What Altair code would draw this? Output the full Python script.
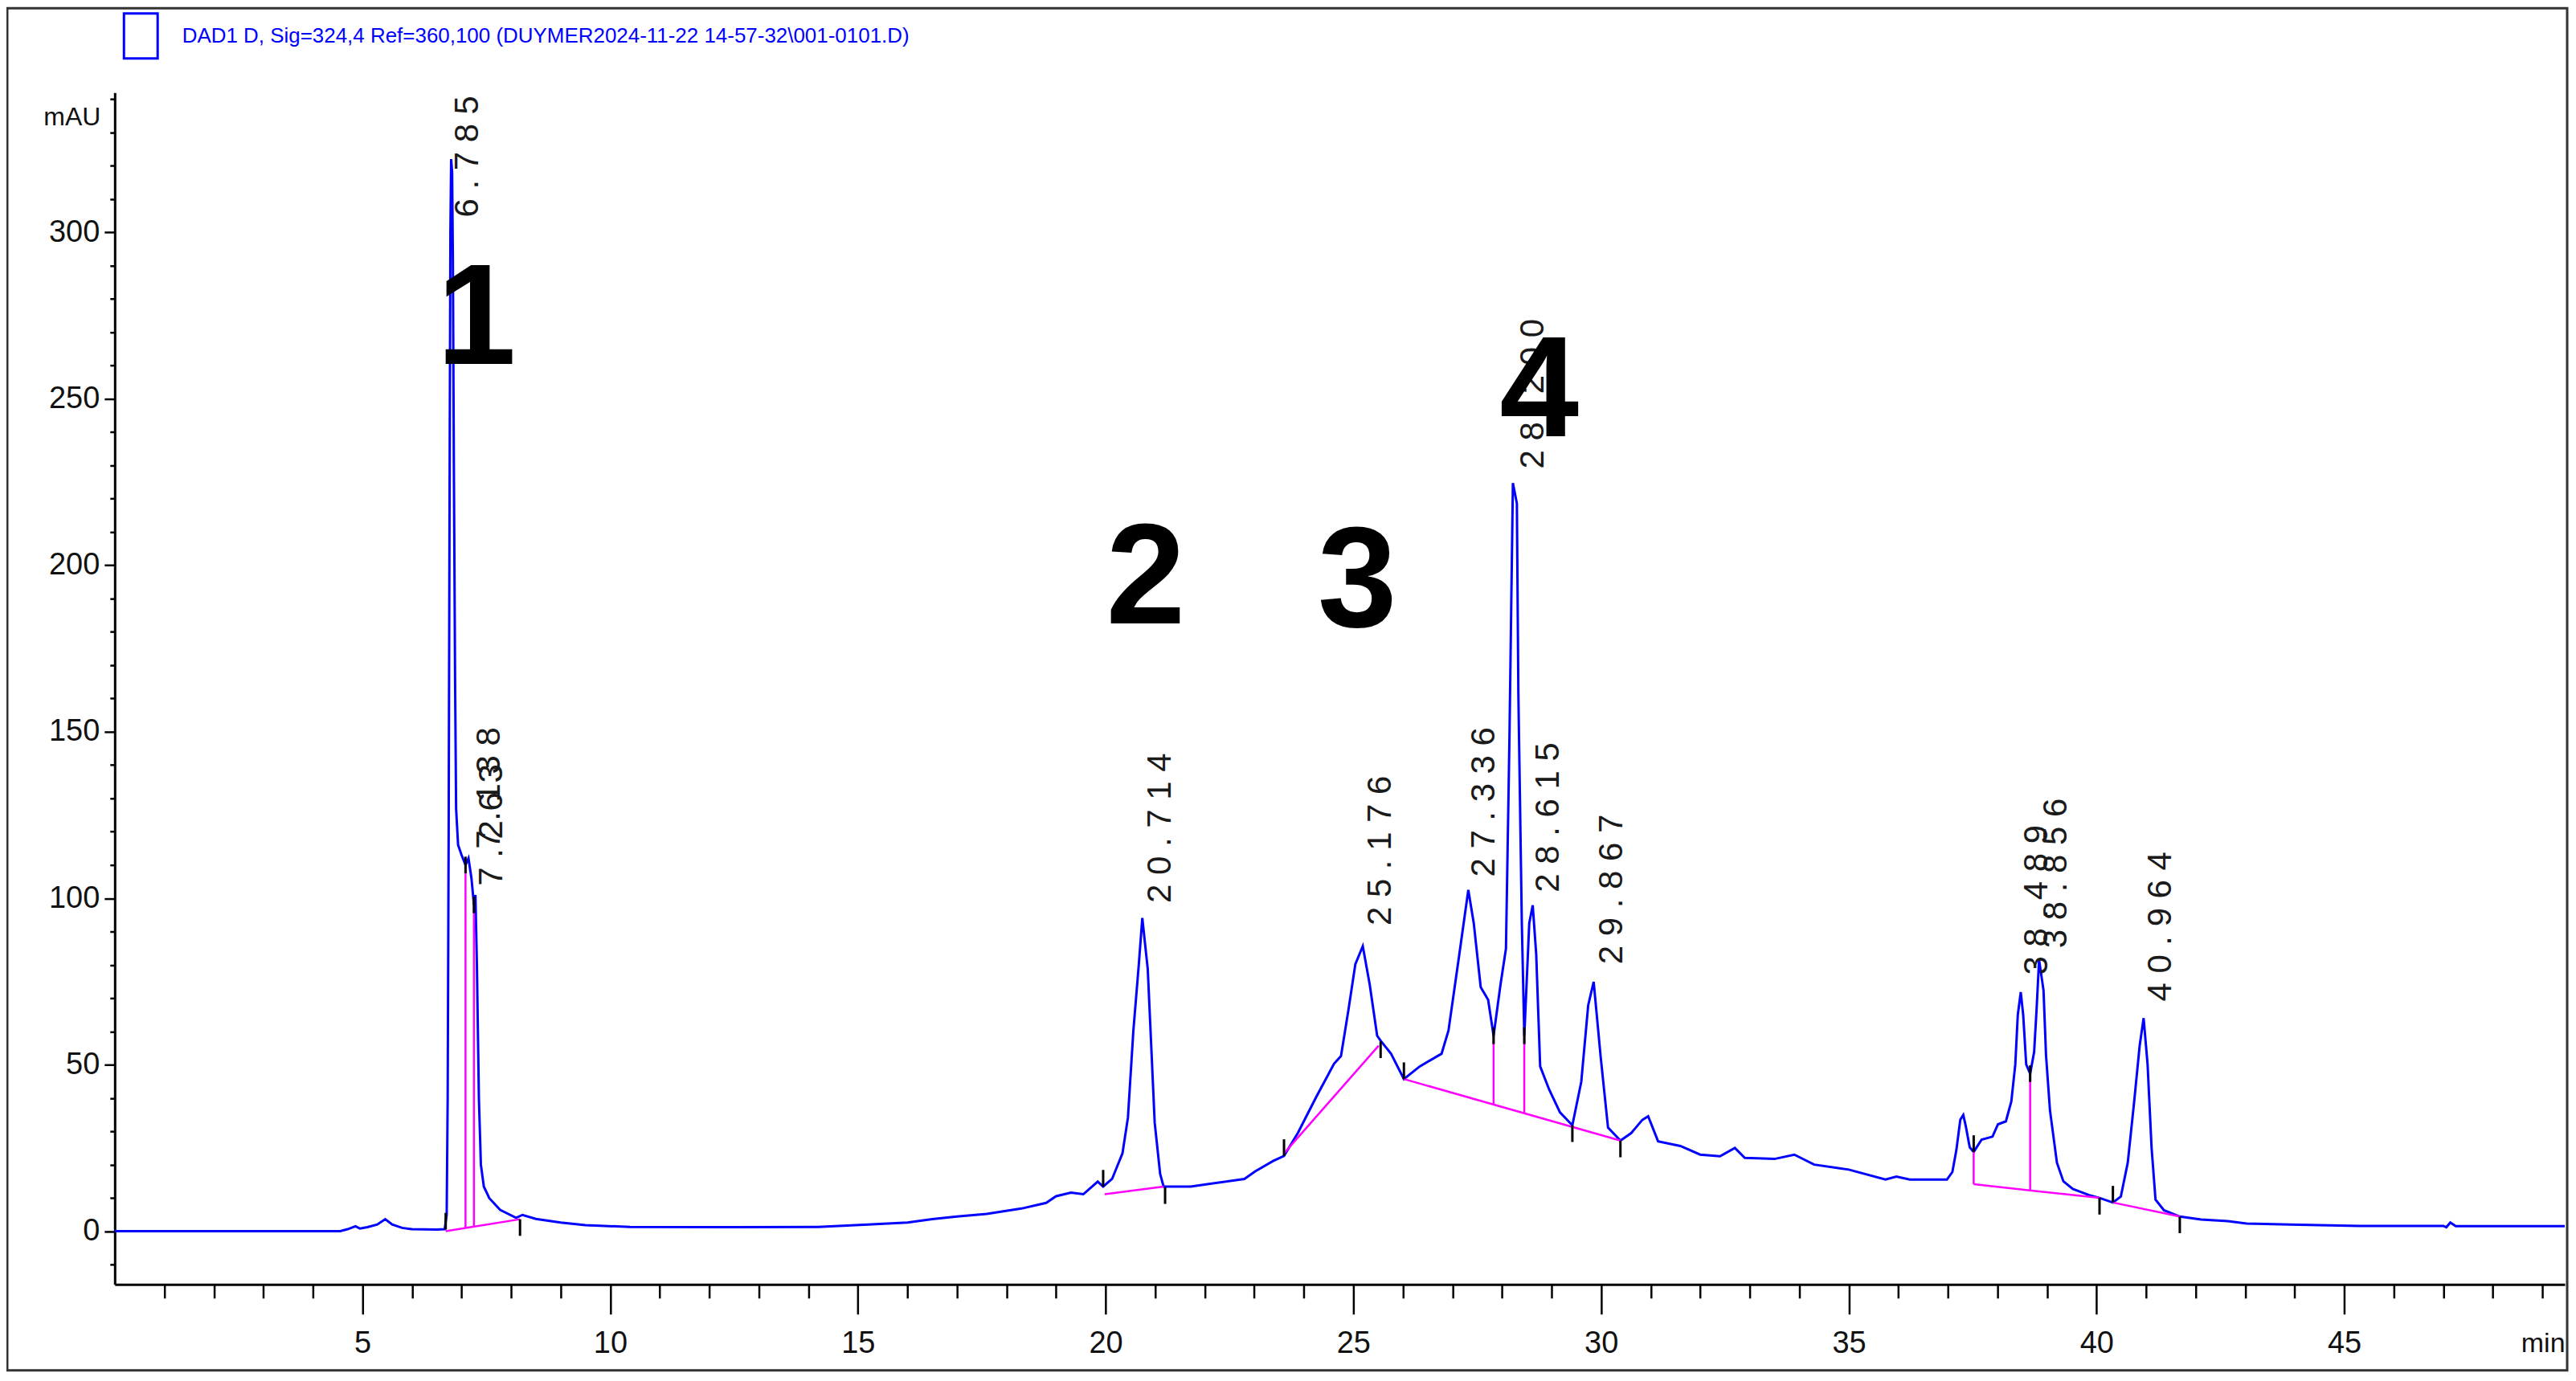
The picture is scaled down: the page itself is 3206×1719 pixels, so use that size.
import altair as alt
import pandas as pd

# ---------------- data ----------------
trace_t = [0.0, 4.55, 4.70, 4.86, 4.95, 5.10, 5.30, 5.46, 5.60, 5.80, 6.00, 6.50, 6.66, 6.70, 6.72, 6.74,
           6.76, 6.775, 6.79, 6.81, 6.825, 6.845, 6.87, 6.89, 6.93, 7.00, 7.08, 7.14, 7.20, 7.25, 7.28,
           7.31, 7.35, 7.39, 7.45, 7.56, 7.78, 8.10, 8.23, 8.50, 9.00, 9.50, 10.40, 12.50, 14.20, 15.20,
           16.00, 16.50, 17.00, 17.60, 18.30, 18.80, 19.00, 19.30, 19.55, 19.84, 19.95, 20.13, 20.34,
           20.45, 20.56, 20.67, 20.74, 20.85, 20.92, 20.99, 21.10, 21.17, 21.72, 22.08, 22.80, 23.02,
           23.38, 23.60, 23.88, 24.25, 24.61, 24.75, 24.90, 25.04, 25.19, 25.33, 25.48, 25.55, 25.76,
           26.02, 26.34, 26.78, 26.92, 27.14, 27.32, 27.43, 27.57, 27.72, 27.83, 27.97, 28.08, 28.15,
           28.22, 28.30, 28.33, 28.40, 28.45, 28.55, 28.62, 28.69, 28.77, 28.95, 29.17, 29.42, 29.60,
           29.74, 29.85, 29.99, 30.14, 30.39, 30.61, 30.83, 30.95, 31.15, 31.60, 32.00, 32.40, 32.70,
           32.90, 33.50, 33.90, 34.30, 35.00, 35.74, 35.96, 36.23, 36.98, 37.09, 37.17, 37.25, 37.31,
           37.36, 37.44, 37.52, 37.68, 37.90, 38.01, 38.17, 38.28, 38.36, 38.41, 38.47, 38.52, 38.58,
           38.66, 38.74, 38.79, 38.84, 38.93, 38.98, 39.06, 39.20, 39.33, 39.52, 39.84, 40.06, 40.33,
           40.49, 40.63, 40.76, 40.87, 40.95, 41.03, 41.11, 41.19, 41.36, 41.68, 42.11, 42.65, 43.03,
           43.90, 45.30, 47.00, 47.06, 47.14, 47.25, 49.45]
trace_y = [0.0, 0.0, 0.6, 1.5, 0.8, 1.2, 2.0, 3.6, 2.0, 1.0, 0.6, 0.5, 0.6, 5.0, 40.0, 120.0,
           230.0, 300.0, 322.0, 318.0, 292.0, 230.0, 165.0, 127.0, 116.0, 113.0, 110.0, 112.0, 106.0, 98.0, 101.0,
           80.0, 40.0, 20.0, 13.4, 9.9, 6.4, 4.0, 4.9, 3.7, 2.6, 1.8, 1.3, 1.2, 1.3, 2.0,
           2.6, 3.6, 4.4, 5.2, 6.8, 8.5, 10.5, 11.6, 11.1, 14.9, 13.4, 15.7, 23.4,
           34.1, 60.3, 80.2, 94.1, 78.7, 55.7, 32.6, 17.2, 13.4, 13.4, 14.2, 15.7, 18.0,
           21.1, 22.6, 29.5, 40.3, 50.3, 52.6, 66.4, 80.2, 85.6, 74.1, 58.7, 57.2, 53.3,
           45.7, 49.5, 53.3, 60.3, 83.3, 102.5, 92.5, 73.3, 69.5, 58.7, 74.1, 84.9, 147.9,
           224.7, 218.6, 161.7, 92.5, 58.7, 92.5, 97.9, 83.3, 49.5, 42.6, 35.7, 31.8, 44.9,
           67.9, 74.9, 52.6, 31.1, 27.2, 29.5, 33.4, 34.5, 27.0, 25.6, 23.0, 22.5, 25.0,
           22.0, 21.7, 23.0, 20.0, 18.5, 15.5, 16.4, 15.5, 15.5, 17.8, 24.3, 33.5, 34.9,
           31.6, 25.2, 23.8, 27.5, 28.4, 32.1, 33.0, 39.0, 50.1, 64.9, 71.8, 64.9, 50.1,
           47.3, 53.8, 66.7, 81.5, 72.3, 52.9, 36.3, 20.6, 15.0, 12.7, 10.9, 10.0, 8.6,
           10.4, 20.6, 39.0, 55.7, 64.0, 50.1, 25.2, 9.5, 6.3, 4.4, 3.5, 3.0, 2.3,
           2.0, 1.6, 1.6, 1.2, 2.6, 1.5, 1.5]

series_name = "DAD1 D, Sig=324,4 Ref=360,100 (DUYMER2024-11-22 14-57-32\\001-0101.D)"

# integration baselines (magenta)
base_t1 = [6.68, 19.98, 23.60, 26.02, 37.52, 40.33]
base_y1 = [0.0, 11.1, 23.4, 45.7, 14.1, 8.6]
base_t2 = [8.18, 21.17, 25.51, 30.39, 40.06, 41.68]
base_y2 = [3.6, 13.4, 55.7, 27.2, 10.0, 4.4]

# drop lines (magenta)
drop_t = [7.08, 7.25, 27.83, 28.45, 37.52, 38.66]
drop_lo = [0.96, 1.37, 38.0, 35.4, 14.1, 12.3]
drop_hi = [110.0, 98.0, 58.7, 58.7, 23.8, 47.3]

# integration event marks (black)
tick_t = [6.68, 7.08, 7.25, 8.18, 19.95, 21.20, 23.60, 25.55, 26.02, 27.83, 28.45, 29.42, 30.39,
          37.52, 38.66, 40.06, 40.33, 41.68]
tick_y = [0.5, 110.0, 98.0, 3.6, 13.4, 13.2, 22.6, 57.0, 45.7, 58.7, 58.7, 31.8, 27.2,
          23.8, 47.3, 10.0, 8.6, 4.4]
tick_kind = ["start", "valley", "valley", "end", "start", "end", "start", "end", "start", "valley",
             "valley", "end", "end", "start", "valley", "end", "start", "end"]

# retention time labels
label_text = ["6.785", "7.263", "7.138", "20.714", "25.176", "27.336", "28.200", "28.615", "29.867",
              "38.489", "38.856", "40.964"]
label_t = [7.13, 7.61, 7.56, 21.10, 25.54, 27.64, 28.62, 28.94, 30.21, 38.79, 39.19, 41.29]
label_y = [304.5, 103.7, 114.8, 98.6, 91.8, 106.4, 229.0, 101.8, 80.2, 77.0, 85.0, 69.0]

# large peak numbers
big_text = ["1", "2", "3", "4"]
big_t = [7.30, 20.81, 25.08, 28.75]
big_y = [260.6, 182.5, 181.7, 238.7]

x_ticks = list(range(1, 50))
y_ticks = list(range(-10, 341, 10))

# ---------------- chart ----------------
FONT = "Liberation Sans, Arial, sans-serif"
W, H = 3054, 1486
XDOM = [0, 49.45]
YDOM = [-16, 342]
xs = alt.Scale(domain=XDOM, nice=False, zero=False)
ys = alt.Scale(domain=YDOM, nice=False, zero=False)

trace_df = pd.DataFrame({"t": trace_t, "y": trace_y, "series": series_name})
base_df = pd.DataFrame({"t": base_t1, "y": base_y1, "t2": base_t2, "y2": base_y2})
drop_df = pd.DataFrame({"t": drop_t, "y": drop_lo, "y2": drop_hi})
tick_df = pd.DataFrame({"t": tick_t, "kind": tick_kind})
TL = 5.0
tick_df["y"] = [y if k == "start" else (y - TL if k == "end" else y - TL / 2) for y, k in zip(tick_y, tick_kind)]
tick_df["y2"] = [y + TL if k == "start" else (y if k == "end" else y + TL / 2) for y, k in zip(tick_y, tick_kind)]
label_df = pd.DataFrame({"t": label_t, "y": label_y, "txt": [" ".join(list(s)) for s in label_text]})
big_df = pd.DataFrame({"t": big_t, "y": big_y, "txt": big_text})

x_axis = alt.Axis(
    values=x_ticks,
    labelExpr="datum.value % 5 === 0 ? datum.label : ''",
    tickSize={"condition": {"test": "datum.value % 5 === 0", "value": 37}, "value": 17},
    tickWidth=2.5, tickColor="#000", domainColor="#000", domainWidth=3,
    labelFont=FONT, labelFontSize=38, labelColor="#111", labelPadding=18,
    labelBaseline="top", labelOverlap=False, labelFlush=False, grid=False,
    title="min", titleFont=FONT, titleFontSize=34, titleFontWeight="normal", titleColor="#111",
    titleAlign="right", titleBaseline="middle", titleX=W, titleY=74, titleAnchor="end",
)
y_axis = alt.Axis(
    values=y_ticks,
    labelExpr="(datum.value % 50 === 0 && datum.value >= 0 && datum.value <= 300) ? datum.label : ''",
    tickSize={"condition": {"test": "datum.value % 50 === 0", "value": 13}, "value": 6},
    tickWidth=2.5, tickColor="#000", domainColor="#000", domainWidth=3,
    labelFont=FONT, labelFontSize=38, labelColor="#111", labelPadding=6,
    labelOverlap=False, labelFlush=False, grid=False,
    title="mAU", titleFont=FONT, titleFontSize=32, titleFontWeight="normal", titleColor="#111",
    titleAngle=0, titleAlign="right", titleBaseline="middle", titleX=-18, titleY=30,
)

X = alt.X("t:Q", scale=xs, axis=x_axis)
Y = alt.Y("y:Q", scale=ys, axis=y_axis)

line = alt.Chart(trace_df).mark_line(strokeWidth=3, interpolate="linear").encode(
    x=X, y=Y,
    color=alt.Color("series:N", scale=alt.Scale(range=["#0000ff"]), legend=alt.Legend(
        title=None, orient="none", legendX=3, legendY=-100, padding=0,
        symbolType="M -0.75 -1 L 0.75 -1 L 0.75 1 L -0.75 1 Z", symbolSize=3136,
        symbolStrokeWidth=3, symbolFillColor="white", symbolStrokeColor="#0000ff",
        labelFont=FONT, labelFontSize=26, labelColor="#0000ff", labelLimit=0, labelOffset=22,
    )),
)

baselines = alt.Chart(base_df).mark_rule(color="#ff00ff", strokeWidth=2.5).encode(
    x=X, y=Y, x2="t2:Q", y2="y2:Q",
)
drops = alt.Chart(drop_df).mark_rule(color="#ff00ff", strokeWidth=2.5).encode(
    x=X, y=Y, y2="y2:Q",
)
events = alt.Chart(tick_df).mark_rule(color="#000", strokeWidth=3).encode(
    x=X, y=Y, y2="y2:Q",
)
labels = alt.Chart(label_df).mark_text(
    angle=270, align="left", baseline="middle", font=FONT, fontSize=42, color="#1a1a1a",
).encode(x=X, y=Y, text="txt:N")
bigs = alt.Chart(big_df).mark_text(
    align="center", baseline="alphabetic", font=FONT, fontSize=178, fontWeight="bold", color="#000",
).encode(x=X, y=Y, text="txt:N")
frame = alt.Chart(pd.DataFrame({"k": [0]})).mark_rect(filled=False, stroke="#333", strokeWidth=3).encode(
    x=alt.value(-134), x2=alt.value(W + 3), y=alt.value(-105), y2=alt.value(H + 107),
)

chart = alt.layer(line, baselines, drops, events, labels, bigs, frame).properties(
    width=W, height=H,
    autosize=alt.AutoSizeParams(type="none"),
    padding={"left": 135, "top": 106, "right": 6, "bottom": 110},
    background="white",
).configure_view(strokeWidth=0)

chart.save("out.html", embed_options={"renderer": "svg", "actions": False})
